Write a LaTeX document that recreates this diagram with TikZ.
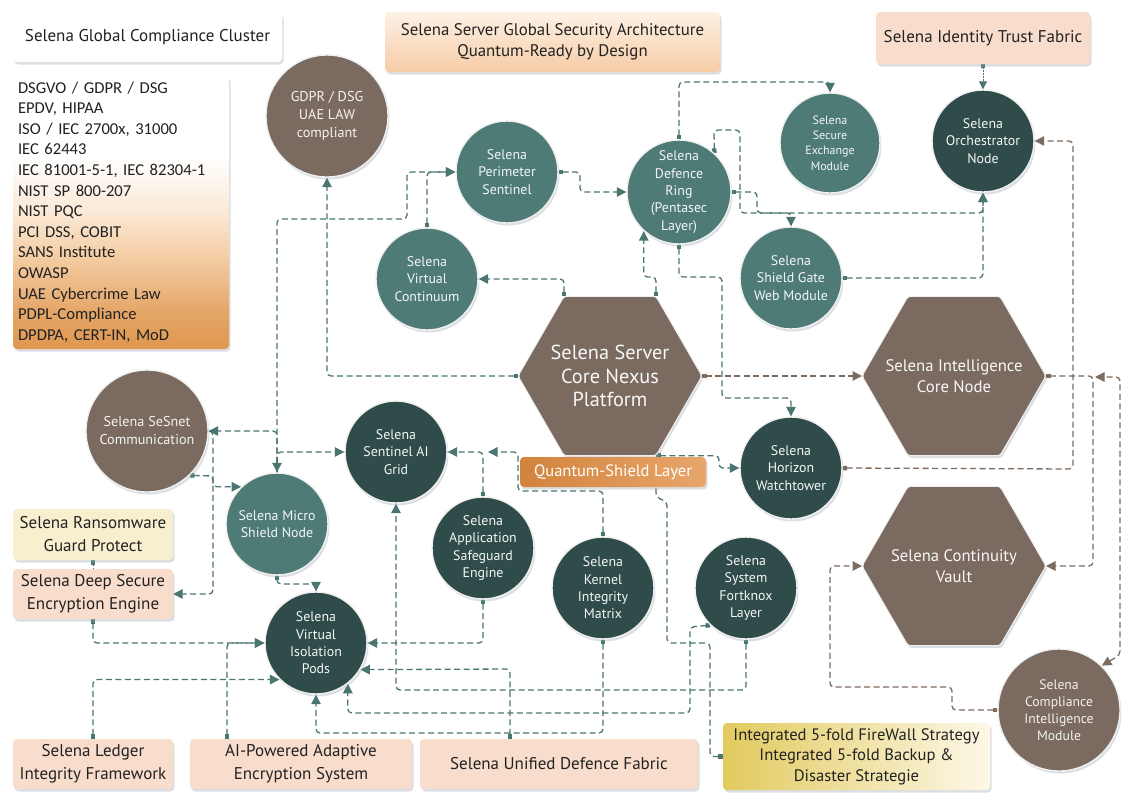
\documentclass[tikz,border=0pt]{standalone}
\usepackage{fontspec}
\setmainfont{PT Sans}
\newfontfamily\listfont{Carlito}
\usetikzlibrary{arrows.meta,shadows,calc}
\pgfdeclarelayer{bg}
\pgfsetlayers{bg,main}

\definecolor{teal1}{HTML}{4F7B77}
\definecolor{dark1}{HTML}{2F4C4A}
\definecolor{brown1}{HTML}{7A6A60}
\definecolor{lineT}{HTML}{4A7570}
\definecolor{lineB}{HTML}{7D6B5E}
\definecolor{peach}{HTML}{F9DDCC}
\definecolor{paleY}{HTML}{F8EFCF}
\definecolor{orDeep}{HTML}{E0974E}
\definecolor{orMid}{HTML}{F3C89A}
\definecolor{titTop}{HTML}{FDF1E5}
\definecolor{titBot}{HTML}{F6CCA6}
\definecolor{intL}{HTML}{E2CA5E}
\definecolor{intR}{HTML}{FDF8E8}
\definecolor{qL}{HTML}{D2833D}
\definecolor{qR}{HTML}{E8A66B}
\definecolor{txt}{HTML}{222222}
\definecolor{shad}{HTML}{9AA6B2}

\pgfdeclareverticalshading{listsh}{100bp}{color(0bp)=(orDeep); color(25bp)=(orDeep); color(32bp)=(orDeep!85!white); color(42bp)=(orMid!90!white); color(50bp)=(orMid!40!white); color(60bp)=(white); color(100bp)=(white)}

\tikzset{
  shd/.style={drop shadow={shadow xshift=1.5pt, shadow yshift=-2.5pt, fill=shad, opacity=0.35}},
  circ/.style={circle, inner sep=0pt, minimum size=#1, draw=white!88!gray, line width=1.4pt,
    align=center, font=\fontsize{13.9}{17.3}\selectfont, text=white!93!teal1, shd},
  tealc/.style={circ=102pt, fill=teal1},
  darkc/.style={circ=102pt, fill=dark1},
  brownc/.style={circ=122pt, fill=brown1, text=white!92!brown1, font=\fontsize{14.2}{18}\selectfont},
  box/.style={rectangle, rounded corners=4pt, inner sep=0pt, align=center, text=txt,
    font=\fontsize{17}{23}\selectfont, shd},
  hex/.style={fill=brown1, draw=white!88!gray, line width=1pt, rounded corners=3pt, shd},
  hext/.style={align=center, text=white!95!brown1, inner sep=0pt},
  tl/.style={draw=lineT, line width=1.3pt, dash pattern=on 6pt off 3.5pt, rounded corners=4pt},
  bl/.style={tl, draw=lineB},
  sa/.style={arrows={Square[length=4.5pt,width=4.5pt]-Triangle[length=9.5pt,width=9.5pt]}},
  ar/.style={arrows={-Triangle[length=9.5pt,width=9.5pt]}},
  aa/.style={arrows={Triangle[length=9.5pt,width=9.5pt]-Triangle[length=9.5pt,width=9.5pt]}},
  sq/.style={arrows={Square[length=4.5pt,width=4.5pt]-}},
}

\begin{document}
\begin{tikzpicture}[x=1pt,y=-1pt]
\useasboundingbox (0,0) rectangle (1140,809);

% ---------- boxes ----------
\node[box, fill=white, minimum width=269pt, minimum height=49pt] (cluster) at (147.5,37.5) {Selena Global Compliance Cluster};
\node[box, shade, shading=listsh, minimum width=216pt, minimum height=274pt, text width=206pt, align=left,
  font=\listfont\fontsize{16.6}{20.6}\selectfont] (list) at (121,212)
  {DSGVO / GDPR / DSG\\EPDV, HIPAA\\ISO / IEC 2700x, 31000\\IEC 62443\\IEC 81001-5-1, IEC 82304-1\\NIST SP 800-207\\NIST PQC\\PCI DSS, COBIT\\SANS Institute\\OWASP\\UAE Cybercrime Law\\PDPL-Compliance\\DPDPA, CERT-IN, MoD};
\node[box, top color=titTop, bottom color=titBot, minimum width=335pt, minimum height=60pt,
  font=\fontsize{16.8}{21}\selectfont] (title) at (552.5,42) {Selena Server Global Security Architecture\\Quantum-Ready by Design};
\node[box, fill=peach, minimum width=214pt, minimum height=52pt] (ident) at (983,38) {Selena Identity Trust Fabric};
\node[box, fill=paleY, minimum width=160pt, minimum height=51pt] (ransom) at (93,534.5) {Selena Ransomware\\Guard Protect};
\node[box, fill=peach, minimum width=160pt, minimum height=50pt] (deep) at (93,594) {Selena Deep Secure\\Encryption Engine};
\node[box, fill=peach, minimum width=160pt, minimum height=50pt] (ledger) at (93,764) {Selena Ledger\\Integrity Framework};
\node[box, fill=peach, minimum width=222pt, minimum height=50pt] (aienc) at (301,764) {AI-Powered Adaptive\\Encryption System};
\node[box, fill=peach, minimum width=278pt, minimum height=50pt] (unified) at (559,764) {Selena Unified Defence Fabric};
\node[box, left color=intL, right color=intR, minimum width=267pt, minimum height=67pt,
  font=\fontsize{16.6}{20.5}\selectfont] (integ) at (856.5,756.5) {Integrated 5-fold FireWall Strategy\\Integrated 5-fold Backup \&\\Disaster Strategie};

% ---------- hexagons ----------
\path[hex] (518,376) -- (564,296.3) -- (656,296.3) -- (702,376) -- (656,455.7) -- (564,455.7) -- cycle;
\path[hex] (862,376) -- (908,296.3) -- (1000,296.3) -- (1046,376) -- (1000,455.7) -- (908,455.7) -- cycle;
\path[hex] (862,566) -- (908,486.3) -- (1000,486.3) -- (1046,566) -- (1000,645.7) -- (908,645.7) -- cycle;
\node[hext, font=\fontsize{20.3}{23.5}\selectfont] (core) at (610,376) {Selena Server\\Core Nexus\\Platform};
\node[hext, font=\fontsize{16.7}{21}\selectfont] (intel) at (954,376) {Selena Intelligence\\Core Node};
\node[hext, font=\fontsize{16.7}{21}\selectfont] (vault) at (954,566) {Selena Continuity\\Vault};
\coordinate (coreW) at (518,376);
\coordinate (coreE) at (702,376);
\coordinate (coreTL) at (564,296.3);
\coordinate (coreTR) at (656,296.3);
\coordinate (coreBR) at (656,455.7);
\coordinate (intW) at (862,376);
\coordinate (intE) at (1046,376);
\coordinate (vaultW) at (862,566);
\coordinate (vaultE) at (1046,566);

\node[box, left color=qL, right color=qR, minimum width=186pt, minimum height=30pt, text=white,
  font=\fontsize{16.5}{20}\selectfont] (quantum) at (613,472) {Quantum-Shield Layer};

% ---------- circles ----------
\node[brownc] (gdpr) at (327,116) {GDPR / DSG\\UAE LAW\\compliant};
\node[tealc] (perim) at (507,172) {Selena\\Perimeter\\Sentinel};
\node[tealc, minimum size=104pt] (ring) at (679,192) {Selena\\Defence\\Ring\\(Pentasec\\Layer)};
\node[tealc, minimum size=100pt, font=\fontsize{12}{15.3}\selectfont] (exch) at (830,143) {Selena\\Secure\\Exchange\\Module};
\node[darkc] (orch) at (983,141) {Selena\\Orchestrator\\Node};
\node[tealc] (gate) at (791,278) {Selena\\Shield Gate\\Web Module};
\node[tealc] (cont) at (427,279) {Selena\\Virtual\\Continuum};
\node[brownc] (sesnet) at (147,431) {Selena SeSnet\\Communication};
\node[tealc] (micro) at (277,524) {Selena Micro\\Shield Node};
\node[darkc] (sent) at (396,452) {Selena\\Sentinel AI\\Grid};
\node[darkc] (app) at (483,548) {Selena\\Application\\Safeguard\\Engine};
\node[darkc] (kern) at (603,588) {Selena\\Kernel\\Integrity\\Matrix};
\node[darkc] (fort) at (746,588) {Selena\\System\\Fortknox\\Layer};
\node[darkc] (horiz) at (791,468) {Selena\\Horizon\\Watchtower};
\node[darkc] (pods) at (316,643) {Selena\\Virtual\\Isolation\\Pods};
\node[brownc, font=\fontsize{13.7}{17}\selectfont] (compl) at (1059,710) {Selena\\Compliance\\Intelligence\\Module};

% ---------- connectors ----------
\begin{pgfonlayer}{bg}
\fill[white] (0,0) rectangle (1140,809);
\draw[tl,sa] (coreW) -| (gdpr.south);
\draw[tl,aa] (micro.north) -- (277,219) -- (407,219) |- (perim.west);
\draw[tl,ar] (micro.north) |- (sesnet.east);
\draw[tl,ar] (micro.north) |- (sent.west);
\draw[tl,sa] (cont.north) |- (perim.west);
\draw[tl,sa] (perim.east) -- (580,172) |- (ring.west);
\draw[tl,sa] (ring.north) -- (679,82) -| (exch.north);
\draw[tl,sa] (ring.east) -- (757,192) -- (757,213) -| (gate.north);
\draw[tl,sa] (ring.48) -- (714,130) -- (740,130) -- (740,213) -| (orch.south);
\draw[tl,sa] (gate.east) -| (orch.south);
\draw[draw=lineT, line width=0.9pt, dash pattern=on 1.5pt off 1.5pt,
  arrows={Square[length=3.5pt,width=3.5pt]-Triangle[length=8pt,width=8pt]}] (ident.south) -- (orch.north);
\draw[tl,sa] (coreTL) |- (cont.east);
\draw[tl,sa] (coreTR) -- (656,277) -| (ring.228);
\draw[tl,sa] (ring.south) -- (679,277) -- (722,277) -- (722,398) -| (horiz.north);
\draw[bl,sa] (coreE) -- (intW);
\draw[bl,sa] (intE) -- (1093,376) |- (vaultE);
\draw[bl,aa] (compl.46) -- (1120,655) -- (1120,377) -- (1095,377);
\draw[bl,sa] (horiz.east) -- (1073,469) |- (orch.east);
\draw[bl,sa] (compl.west) -- (952,710) -- (952,687) -- (830,687) |- (vaultW);
\draw[tl,sa] (coreBR) -- (719,455.7) |- (horiz.west);
\draw[tl,sa] (app.north) |- (sent.east);
\draw[tl,sa] (kern.north) -- (603,491) -- (518,491) -- (518,452) -- (488,452);
\draw[tl,sq] (integ.west) -- (710,756.5) -- (710,643) -- (667,643) -- (667,502) -- (656,497) -- ($(quantum.south)+(43,0)$);
\draw[tl,sa] (fort.226) -- (690,627) -- (690,713) -- (pods.308 |- 0,713) -- (pods.308);
\draw[tl,sa] (fort.south) -- (746,690) -| (sent.south);
\draw[tl,sa] (kern.south) -- (603,733) -| (pods.south);
\draw[tl,sa] ($(unified.north)+(-49,0)$) -- (510,669) -- (pods.329);
\draw[tl,sa] (app.south) |- (pods.east);
\draw[tl,sa] (micro.south) -- (277,584) -| (pods.north);
\draw[tl,sa] (deep.south) |- (pods.west);
\draw[tl,sa] (ledger.north) |- (pods.225);
\draw[tl,sa] ($(aienc.north)+(-74,0)$) |- (pods.west);
\draw[tl,sa] (sesnet.314) -- (213,476) |- (micro.134);
\draw[tl,ar] (sesnet.east) -- (213,431) |- (deep.east);
\draw[draw=lineT, line width=1pt, dash pattern=on 2pt off 1.5pt, sq] (ransom.south) -- (deep.north);
\end{pgfonlayer}
\end{tikzpicture}
\end{document}
